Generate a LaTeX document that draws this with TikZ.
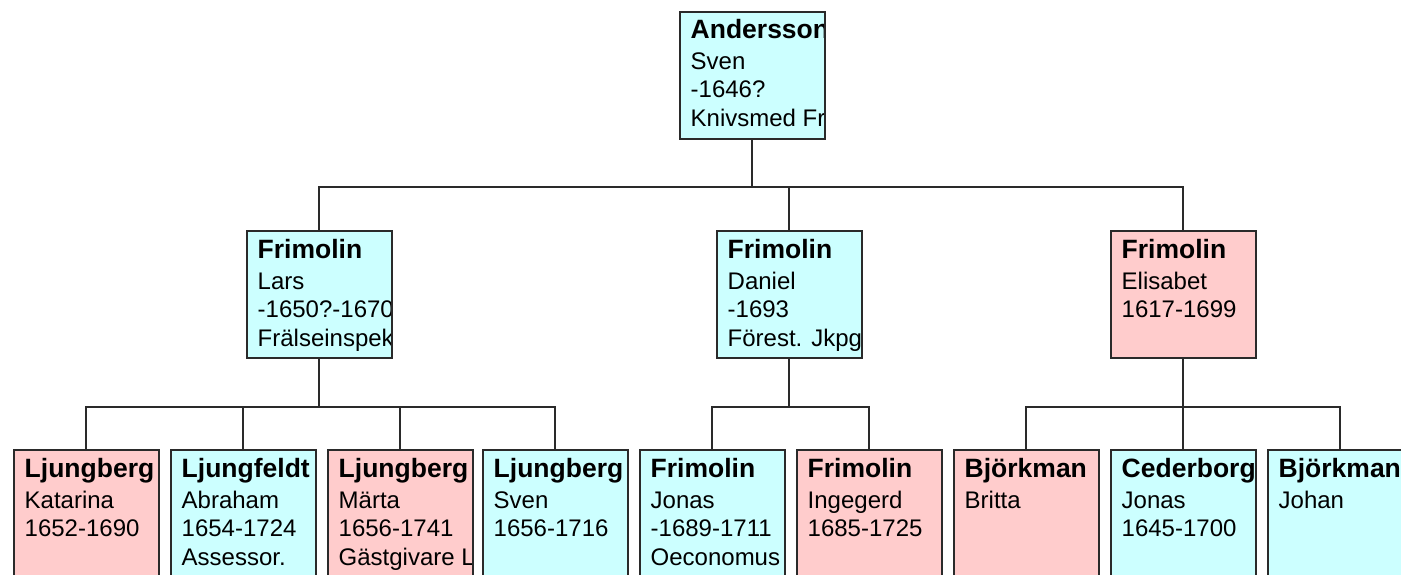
\documentclass[tikz,border=0pt]{standalone}
\usepackage{fontspec}
\setmainfont{Liberation Sans}
\definecolor{male}{HTML}{CCFFFF}
\definecolor{female}{HTML}{FFCCCC}
\definecolor{edgec}{HTML}{2A2A2A}
\tikzset{
  person/.style={draw=edgec, line width=2pt, minimum width=145pt, minimum height=127pt, inner sep=0pt, outer sep=0pt},
  mbox/.style={person, fill=male},
  fbox/.style={person, fill=female},
  link/.style={draw=edgec, line width=2pt},
  txt/.style={anchor=base west, inner sep=0pt, font=\fontsize{24}{29}\selectfont},
  sur/.style={txt, font=\fontsize{26.5}{29}\selectfont\bfseries},
}
\newcommand\who[5]{%
  \begin{scope}
    \clip ([shift={(1pt,-1pt)}]#1.north west) rectangle ([shift={(-1pt,1pt)}]#1.south east);
    \node[sur] (#1-a) at ([shift={(11pt,-27pt)}]#1.north west) {#2};
    \node[txt] (#1-b) at ([shift={(11pt,-58pt)}]#1.north west) {#3};
    \node[txt] (#1-c) at ([shift={(11pt,-86pt)}]#1.north west) {#4};
    \node[txt] (#1-d) at ([shift={(11pt,-115pt)}]#1.north west) {#5};
  \end{scope}}
\begin{document}
\begin{tikzpicture}[x=1pt, y=-1pt]
  \clip (0,0) rectangle (1401,575);
  \fill[white] (0,0) rectangle (1401,575);
  % generation 1
  \node[mbox] (sven) at (752,75.5) {};
  % generation 2
  \node[mbox] (lars) at (319,294.5) {};
  \node[mbox] (daniel) at (789,294.5) {};
  \node[fbox] (elisabet) at (1183,294.5) {};
  % generation 3
  \node[fbox] (katarina) at (86,513.5) {};
  \node[mbox] (abraham) at (243,513.5) {};
  \node[fbox] (marta) at (400,513.5) {};
  \node[mbox] (svenl) at (555,513.5) {};
  \node[mbox] (jonas) at (712,513.5) {};
  \node[fbox] (ingegerd) at (869,513.5) {};
  \node[fbox] (britta) at (1026,513.5) {};
  \node[mbox] (jonasc) at (1183,513.5) {};
  \node[mbox] (johan) at (1340,513.5) {};
  % bus levels
  \coordinate (bus1) at (752,187);
  \coordinate (busL) at (319,407);
  \coordinate (busD) at (789,407);
  \coordinate (busE) at (1183,407);
  % connectors
  \draw[link] (sven.south) -- (bus1);
  \draw[link] (lars.north) |- (bus1) -| (elisabet.north);
  \draw[link] (daniel.north) -- (daniel.north |- bus1);
  \draw[link] (lars.south) -- (busL);
  \draw[link] (katarina.north) |- (busL) -| (svenl.north);
  \draw[link] (abraham.north) -- (abraham.north |- busL);
  \draw[link] (marta.north) -- (marta.north |- busL);
  \draw[link] (daniel.south) -- (busD);
  \draw[link] (jonas.north) |- (busD) -| (ingegerd.north);
  \draw[link] (elisabet.south) -- (busE);
  \draw[link] (britta.north) |- (busE) -| (johan.north);
  \draw[link] (jonasc.north) -- (busE);
  % texts
  \who{sven}{Andersson}{Sven}{-1646?}{Knivsmed Fry}
  \who{lars}{Frimolin}{Lars}{-1650?-1670}{Frälseinspek}
  \who{daniel}{Frimolin}{Daniel}{-1693}{Förest. Jkpg}
  \who{elisabet}{Frimolin}{Elisabet}{1617-1699}{}
  \who{katarina}{Ljungberg}{Katarina}{1652-1690}{}
  \who{abraham}{Ljungfeldt}{Abraham}{1654-1724}{Assessor.}
  \who{marta}{Ljungberg}{Märta}{1656-1741}{Gästgivare Lj}
  \who{svenl}{Ljungberg}{Sven}{1656-1716}{}
  \who{jonas}{Frimolin}{Jonas}{-1689-1711}{Oeconomus}
  \who{ingegerd}{Frimolin}{Ingegerd}{1685-1725}{}
  \who{britta}{Björkman}{Britta}{}{}
  \who{jonasc}{Cederborg}{Jonas}{1645-1700}{}
  \who{johan}{Björkman}{Johan}{}{}
\end{tikzpicture}
\end{document}
